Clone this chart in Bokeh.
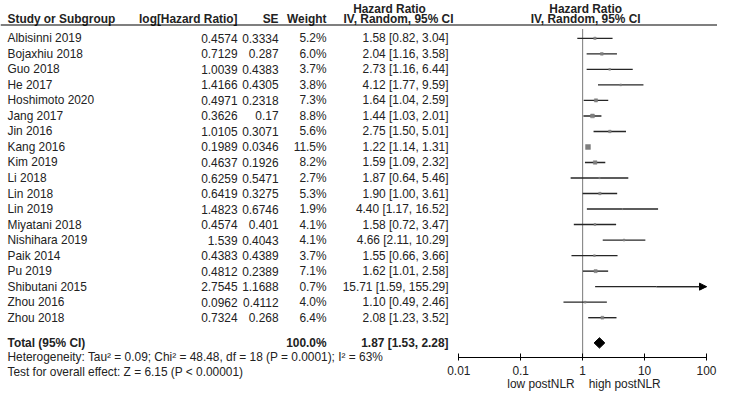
import math
from bokeh.plotting import figure
from bokeh.models import (ColumnDataSource, Range1d, LogScale, LogAxis, FixedTicker,
                          CustomJSTickFormatter, Arrow, NormalHead)
from bokeh.core.properties import value
from bokeh.embed import file_html
from bokeh.resources import INLINE

# ---------------- data ----------------
studies = ["Albisinni 2019", "Bojaxhiu 2018", "Guo 2018", "He 2017", "Hoshimoto 2020",
           "Jang 2017", "Jin 2016", "Kang 2016", "Kim 2019", "Li 2018", "Lin 2018",
           "Lin 2019", "Miyatani 2018", "Nishihara 2019", "Paik 2014", "Pu 2019",
           "Shibutani 2015", "Zhou 2016", "Zhou 2018"]
log_hr = [0.4574, 0.7129, 1.0039, 1.4166, 0.4971, 0.3626, 1.0105, 0.1989, 0.4637, 0.6259,
          0.6419, 1.4823, 0.4574, 1.539, 0.4383, 0.4812, 2.7545, 0.0962, 0.7324]
se = [0.3334, 0.287, 0.4383, 0.4305, 0.2318, 0.17, 0.3071, 0.0346, 0.1926, 0.5471,
      0.3275, 0.6746, 0.401, 0.4043, 0.4389, 0.2389, 1.1688, 0.4112, 0.268]
weights = [5.2, 6.0, 3.7, 3.8, 7.3, 8.8, 5.6, 11.5, 8.2, 2.7, 5.3, 1.9, 4.1, 4.1, 3.7,
           7.1, 0.7, 4.0, 6.4]
hr = [1.58, 2.04, 2.73, 4.12, 1.64, 1.44, 2.75, 1.22, 1.59, 1.87, 1.90, 4.40, 1.58, 4.66,
      1.55, 1.62, 15.71, 1.10, 2.08]
ci_low = [0.82, 1.16, 1.16, 1.77, 1.04, 1.03, 1.50, 1.14, 1.09, 0.64, 1.00, 1.17, 0.72,
          2.11, 0.66, 1.01, 1.59, 0.49, 1.23]
ci_high = [3.04, 3.58, 6.44, 9.59, 2.59, 2.01, 5.01, 1.31, 2.32, 5.46, 3.61, 16.52, 3.47,
           10.29, 3.66, 2.58, 155.29, 2.46, 3.52]
total_weight = 100.0
total_hr, total_low, total_high = 1.87, 1.53, 2.28
tick_values = [0.01, 0.1, 1, 10, 100]
heterogeneity = "Heterogeneity: Tau\u00b2 = 0.09; Chi\u00b2 = 48.48, df = 18 (P = 0.0001); I\u00b2 = 63%"
overall = "Test for overall effect: Z = 6.15 (P < 0.00001)"
favours_left = "low postNLR"
favours_right = "high postNLR"

# ---------------- layout constants ----------------
W, H = 717, 391
ROW_PX = 15.52
R_TOP = -2.4375
R_BOT = R_TOP + H / ROW_PX
FONT = "Liberation Sans"
FS = "11.9px"
TXT = "#222222"
REF_X0 = 5
REF_X1 = REF_X0 + W
PX_LO = 463.3 - REF_X0
PX_HI = 706.0
DEC = (PX_HI - PX_LO) / 4
LOG_LO = -2 - PX_LO / DEC
LOG_HI = 2 + (W - PX_HI) / DEC
X_MAX = 100
R_AXIS = 20.58

p = figure(width=W, height=H, output_backend="svg", toolbar_location=None,
           x_range=Range1d(REF_X0, REF_X1), y_range=Range1d(R_BOT, R_TOP),
           x_axis_type=None, y_axis_type=None,
           min_border_left=0, min_border_right=0, min_border_top=0,
           min_border_bottom=0)
p.outline_line_color = None
p.background_fill_color = "white"
p.border_fill_color = "white"
p.extra_x_ranges = {"hr": Range1d(10 ** LOG_LO, 10 ** LOG_HI)}
p.extra_x_scales = {"hr": LogScale()}

n = len(studies)
rows = list(range(n))
src = ColumnDataSource(dict(
    row=rows, study=studies,
    lhr=[str(v) for v in log_hr],
    se=[str(v) for v in se],
    w=[f"{v:.1f}%" for v in weights],
    ci=[f"{h:.2f} [{l:.2f}, {u:.2f}]" for h, l, u in zip(hr, ci_low, ci_high)],
    hr=hr, lo=ci_low, hi=[min(u, X_MAX) for u in ci_high],
    size=[0.3 + 0.4 * w for w in weights],
))

def txt(x, col, align):
    p.text(x=x, y="row", text=col, source=src, text_align=align, text_baseline="middle",
           text_font=value(FONT), text_font_size=FS, text_color=TXT)

# table body
txt(12, "study", "left")
txt(242, "lhr", "right")
txt(283, "se", "right")
txt(331, "w", "right")
txt(453, "ci", "right")

# header
R_H1, R_H2, R_LINE = -1.92, -1.24, -0.86
hdr = ColumnDataSource(dict(
    x=[12, 242, 283, 331, 394, 403],
    y=[R_H2, R_H2, R_H2, R_H2, R_H1, R_H2],
    t=["Study or Subgroup", "log[Hazard Ratio]", "SE", "Weight", "Hazard Ratio",
       "IV, Random, 95% CI"],
    a=["left", "right", "right", "right", "center", "center"]))
p.text(x="x", y="y", text="t", text_align="a", source=hdr, text_baseline="middle",
       text_font=value(FONT), text_font_size=FS, text_color=TXT, text_font_style="bold")
hdr2 = ColumnDataSource(dict(x=[1, 1], y=[R_H1, R_H2], t=["Hazard Ratio", "IV, Random, 95% CI"]))
p.text(x="x", y="y", text="t", source=hdr2, x_range_name="hr", text_align="center",
       text_baseline="middle", x_offset=3, text_font=value(FONT), text_font_size=FS,
       text_color=TXT, text_font_style="bold")
p.segment(x0=[REF_X0], x1=[REF_X1], y0=[R_LINE], y1=[R_LINE], line_color="black",
          line_width=1.2)

# totals row
R_TOTAL = 19.625
tot = ColumnDataSource(dict(
    x=[12, 331, 453], y=[R_TOTAL] * 3,
    t=["Total (95% CI)", f"{total_weight:.1f}%",
       f"{total_hr:.2f} [{total_low:.2f}, {total_high:.2f}]"],
    a=["left", "right", "right"]))
p.text(x="x", y="y", text="t", text_align="a", source=tot, text_baseline="middle",
       text_font=value(FONT), text_font_size=FS, text_color=TXT, text_font_style="bold")

foot = ColumnDataSource(dict(x=[12, 12], y=[20.5625, 21.5], t=[heterogeneity, overall]))
p.text(x="x", y="y", text="t", source=foot, text_align="left", text_baseline="middle",
       text_font=value(FONT), text_font_size=FS, text_color=TXT)

# forest plot
p.segment(x0=[1], x1=[1], y0=[-0.6], y1=[R_AXIS], x_range_name="hr",
          line_color="#7a7a7a", line_width=1)
p.segment(x0="lo", x1="hi", y0="row", y1="row", source=src, x_range_name="hr",
          line_color="#262626", line_width=1.4)
p.scatter(x="hr", y="row", size="size", marker="square", source=src, x_range_name="hr",
          fill_color="#7f7f7f", line_color="#7f7f7f", line_width=0.5)
arr_rows = [r for r in rows if ci_high[r] > X_MAX]
arr_src = ColumnDataSource(dict(xs=[hr[r] for r in arr_rows], xe=[X_MAX] * len(arr_rows),
                                y=arr_rows))
p.add_layout(Arrow(end=NormalHead(size=7, fill_color="black", line_color="black"),
                   x_start="xs", x_end="xe", y_start="y", y_end="y", source=arr_src,
                   x_range_name="hr", line_color="#262626", line_width=1.4))
h = 5.2 / ROW_PX
p.patch(x=[total_low, total_hr, total_high, total_hr],
        y=[R_TOTAL, R_TOTAL - h, R_TOTAL, R_TOTAL + h],
        x_range_name="hr", fill_color="black", line_color="black")

ax = LogAxis(x_range_name="hr", ticker=FixedTicker(ticks=tick_values),
             formatter=CustomJSTickFormatter(code="return tick.toString()"),
             bounds=(min(tick_values), max(tick_values)), fixed_location=R_AXIS)
ax.axis_line_color = "black"
ax.major_tick_line_color = "black"
ax.minor_tick_line_color = None
ax.major_tick_in = 4
ax.major_tick_out = 3
ax.major_label_standoff = 5
ax.major_label_text_font = FONT
ax.major_label_text_font_size = FS
ax.major_label_text_color = TXT
p.add_layout(ax, "below")

fav = ColumnDataSource(dict(x=[1, 1], y=[R_AXIS + 1.72] * 2, t=[favours_left, favours_right],
                            a=["right", "left"], off=[-8, 6]))
p.text(x="x", y="y", text="t", text_align="a", x_offset="off", source=fav,
       x_range_name="hr", text_baseline="middle", text_font=value(FONT),
       text_font_size=FS, text_color=TXT)

open("out.html", "w").write(file_html(p, INLINE))
